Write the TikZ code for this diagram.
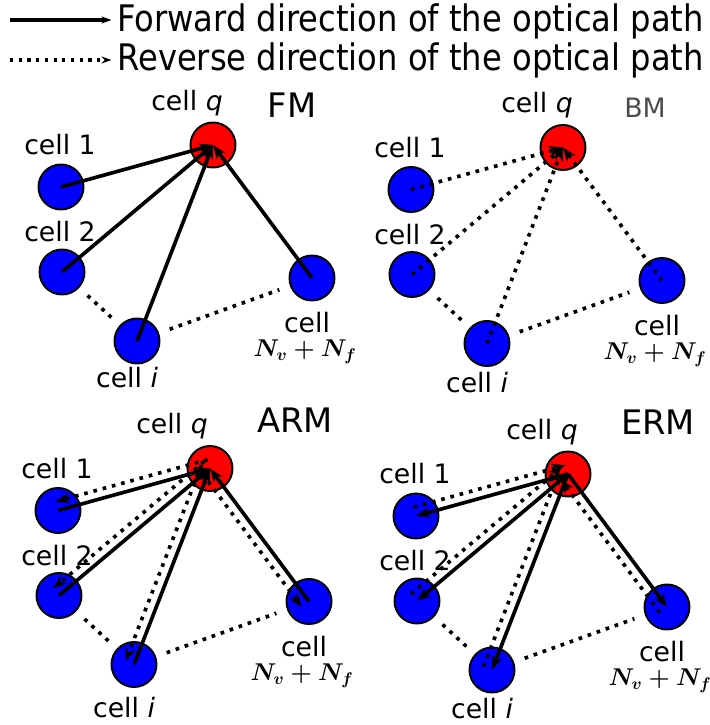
\documentclass[tikz,border=0pt]{standalone}
\usepackage{fontspec}
\setmainfont{DejaVu Sans}
\newfontfamily\legendfont{DejaVu Sans}[FakeStretch=0.88]
\usetikzlibrary{arrows.meta,calc}
\definecolor{cellblue}{RGB}{0,0,255}
\definecolor{cellred}{RGB}{255,0,0}

\tikzset{
  cellnode/.style={circle, draw=black, line width=1.4pt, minimum size=32pt, inner sep=0pt},
  fwd/.style={line width=2.6pt, -{Stealth[length=10pt,width=7.5pt]}},
  rev/.style={line width=2.6pt, dash pattern=on 2.6pt off 4.2pt, -{Stealth[length=10pt,width=7.5pt]}},
  link/.style={line width=2.6pt, dash pattern=on 2.6pt off 4.2pt, shorten <=8pt, shorten >=8pt},
  lbl/.style={font=\fontsize{19}{21}\selectfont, inner sep=0pt},
  mathlbl/.style={font=\fontsize{18}{20}\selectfont\boldmath, inner sep=0pt},
  title/.style={font=\fontsize{24}{28}\selectfont, inner sep=0pt},
}

\begin{document}
\begin{tikzpicture}[x=0.025cm, y=-0.025cm]
    \useasboundingbox (0,0) rectangle (710,725);

    % legend
    \node[anchor=west, inner sep=0pt, font={\legendfont\fontsize{26}{29}\selectfont}] (fwdtxt) at (117,21) {Forward direction of the optical path};
    \node[anchor=west, inner sep=0pt, font={\legendfont\fontsize{26}{29}\selectfont}] (revtxt) at (117,60) {Reverse direction of the optical path};
    \coordinate (fwdstart) at (10,20);
    \coordinate (revstart) at (10,60);
    \draw[line width=2.2pt, -{Stealth[length=7pt,width=5pt]}] (fwdstart) -- ([xshift=-4pt]fwdtxt.west |- fwdstart);
    \draw[line width=2.2pt, dash pattern=on 2.2pt off 4pt, -{Stealth[length=7pt,width=5pt]}] (revstart) -- ([xshift=-4pt]revtxt.west |- revstart);

    % the four panels: cells and their labels
    \foreach \p/\sx/\sy/\qx/\iy in {F/0/0/187/378, B/350/2.5/187/380, A/-3/323.5/175/384, E/355/329/187/380}{
      \begin{scope}[shift={(\sx,\sy)}]
        \node[cellnode, fill=cellred] (\p-q) at (213,145) {};
        \node[cellnode, fill=cellblue] (\p-1) at (61,187) {};
        \node[cellnode, fill=cellblue] (\p-2) at (62,272) {};
        \node[cellnode, fill=cellblue] (\p-i) at (137,341) {};
        \node[cellnode, fill=cellblue] (\p-N) at (312,278) {};
        \node[lbl] (\p-lq) at (\qx,103) {cell \textit{q}};
        \node[lbl] (\p-l1) at (60,145) {cell 1};
        \node[lbl] (\p-l2) at (60,232) {cell 2};
        \node[lbl] (\p-li) at (127,\iy) {cell \textit{i}};
        \node[lbl] (\p-lN) at (307,323) {cell};
        \node[mathlbl] (\p-lNv) at (305,352) {$N_v+N_f$};
        \draw[link] (\p-2) -- (\p-i);
        \draw[link] (\p-i) -- (\p-N);
      \end{scope}
    }

    % titles
    \node[title] (fmtitle) at (292,105) {FM};
    \node[font=\fontsize{19}{22}\selectfont, text=black!70, inner sep=0pt] (bmtitle) at (645,108) {BM};
    \node[title] (armtitle) at (295,420) {ARM};
    \node[title] (ermtitle) at (658,422) {ERM};

    % FM: forward paths into cell q
    \foreach \c in {1,2,i,N}
      \draw[fwd] (F-\c.center) -- (F-q.center);

    % BM: reverse paths into cell q
    \foreach \c in {1,2,i,N}
      \draw[rev] (B-\c.center) -- (B-q.center);

    % ARM: forward in, reverse out
    \foreach \c in {1,2,i,N}{
      \draw[fwd] (A-\c.center) -- (A-q.center);
      \draw[rev] ($(A-q.center)!6.5pt!-90:(A-\c.center)$) -- ($(A-\c.center)!6.5pt!90:(A-q.center)$);
    }

    % ERM: forward out, reverse in
    \foreach \c in {1,2,i,N}{
      \draw[fwd] (E-q.center) -- (E-\c.center);
      \draw[rev] ($(E-\c.center)!6.5pt!90:(E-q.center)$) -- ($(E-q.center)!6.5pt!-90:(E-\c.center)$);
    }
\end{tikzpicture}
\end{document}
